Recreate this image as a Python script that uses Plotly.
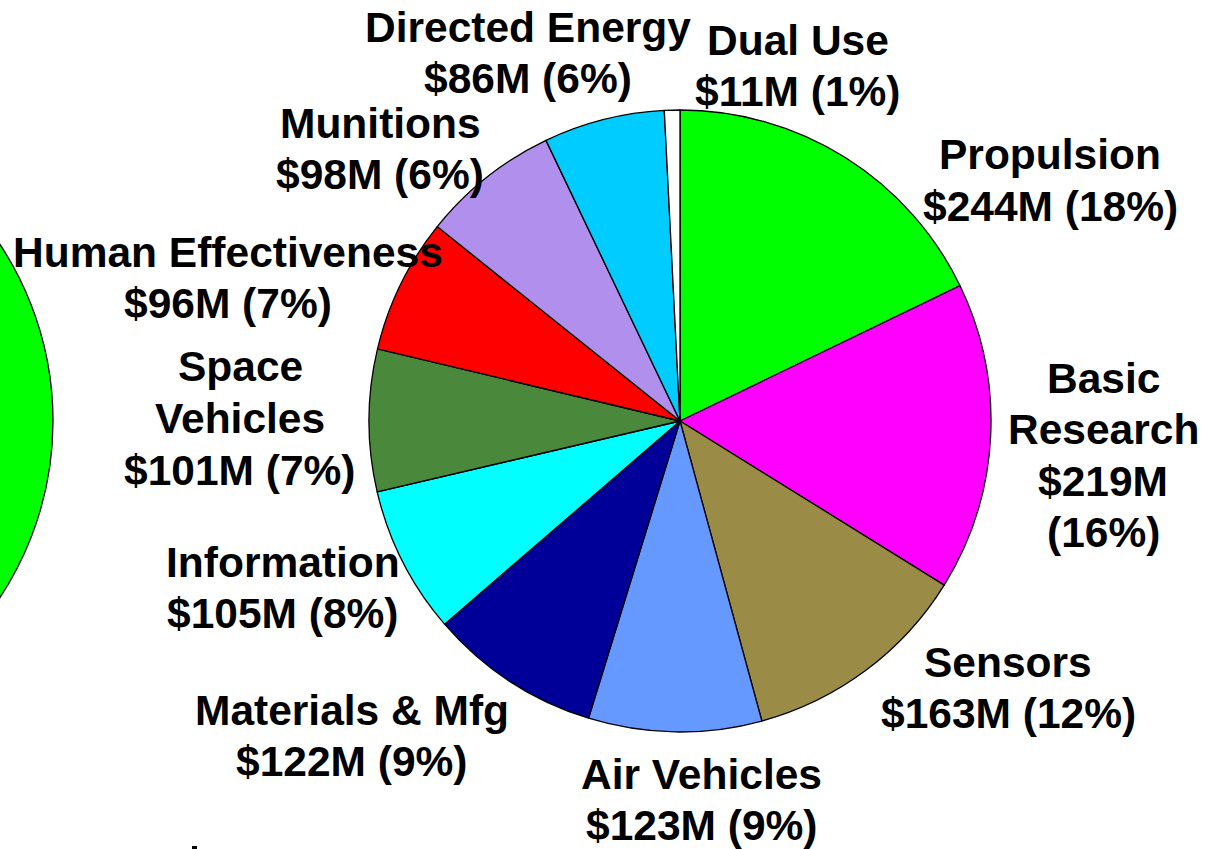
import plotly.graph_objects as go

# ---- data ----
categories = ["Propulsion", "Basic Research", "Sensors", "Air Vehicles", "Materials & Mfg",
              "Information", "Space Vehicles", "Human Effectiveness", "Munitions",
              "Directed Energy", "Dual Use"]
values_musd = [244, 219, 163, 123, 122, 105, 101, 96, 98, 86, 11]
pct_labels = [18, 16, 12, 9, 9, 8, 7, 7, 6, 6, 1]
colors = ["#00FF00", "#FF00FF", "#9A8C46", "#6699FF", "#000099",
          "#00FFFF", "#4A883B", "#FF0000", "#B18FEC", "#00CCFF", "#FFFFFF"]

# ---- layout (positions in pixels) ----
W, H = 1215, 849
cx, cy, r = 680, 421, 311
# label line breaking & placement: (x center px, first line y px, name lines, split value line)
label_layout = {
    "Propulsion": (1050, 155, ["Propulsion"], False),
    "Basic Research": (1103, 378, ["Basic", "Research"], True),
    "Sensors": (1008, 662, ["Sensors"], False),
    "Air Vehicles": (702, 774, ["Air Vehicles"], False),
    "Materials & Mfg": (352, 710, ["Materials & Mfg"], False),
    "Information": (283, 562, ["Information"], False),
    "Space Vehicles": (240, 367, ["Space", "Vehicles"], False),
    "Human Effectiveness": (228, 252, ["Human Effectiveness"], False),
    "Munitions": (380, 123, ["Munitions"], False),
    "Directed Energy": (528, 27, ["Directed Energy"], False),
    "Dual Use": (798, 40, ["Dual Use"], False),
}
line_gap = 51.5
font = dict(family="Liberation Sans, Arial, sans-serif", size=42.5, color="black")

fig = go.Figure()
fig.add_trace(go.Pie(
    labels=categories, values=values_musd, sort=False, direction="clockwise", rotation=0,
    marker=dict(colors=colors, line=dict(color="black", width=1.3)),
    textinfo="none", hoverinfo="label+value", showlegend=False,
    domain=dict(x=[(cx - r) / W, (cx + r) / W], y=[(H - cy - r) / H, (H - cy + r) / H]),
))

annotations = []
for name, val, pct in zip(categories, values_musd, pct_labels):
    x, y0, name_lines, split = label_layout[name]
    lines = list(name_lines)
    if split:
        lines += [f"${val}M", f"({pct}%)"]
    else:
        lines += [f"${val}M ({pct}%)"]
    for i, ln in enumerate(lines):
        y = y0 + i * line_gap
        annotations.append(dict(
            x=x / W, y=1 - y / H, xref="paper", yref="paper", text=f"<b>{ln}</b>",
            showarrow=False, xanchor="center", yanchor="middle", font=font))

big_r, big_cx = 320, 53 - 320
shapes = [
    dict(type="circle", xref="paper", yref="paper",
         x0=(big_cx - big_r) / W, x1=(big_cx + big_r) / W,
         y0=1 - (cy + big_r) / H, y1=1 - (cy - big_r) / H,
         fillcolor="#00FF00", line=dict(color="black", width=1.3), layer="below"),
    dict(type="rect", xref="paper", yref="paper",
         x0=192 / W, x1=197 / W, y0=1 - 849 / H, y1=1 - 846 / H,
         fillcolor="black", line=dict(width=0)),
]

fig.update_layout(
    width=W, height=H, margin=dict(l=0, r=0, t=0, b=0),
    paper_bgcolor="white", plot_bgcolor="white",
    annotations=annotations, shapes=shapes,
)
fig.write_html("out.html", config={"displayModeBar": False},
               post_script="document.body.style.margin='0';document.body.style.overflow='hidden';")
